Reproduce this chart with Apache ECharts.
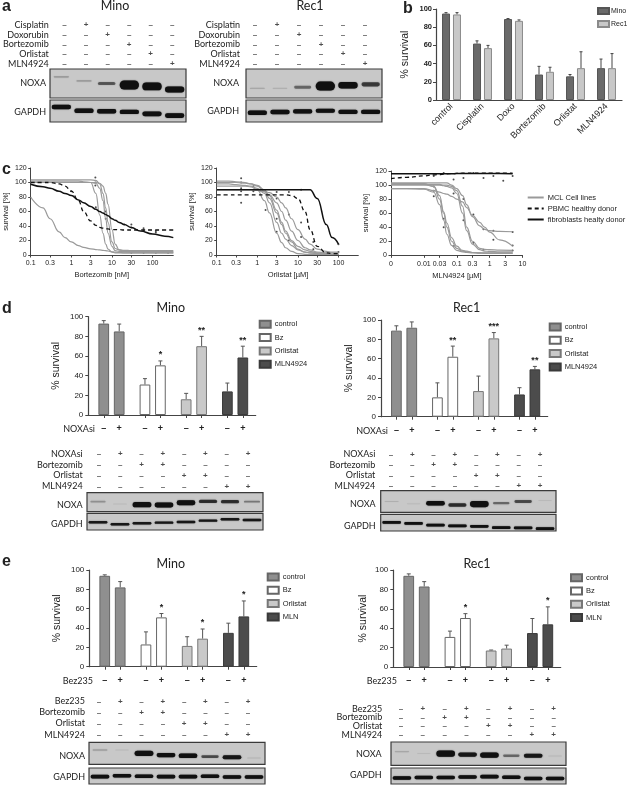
<!DOCTYPE html>
<html><head><meta charset="utf-8"><style>html,body{margin:0;background:#fff}#c{width:627px;height:785px}</style>
<script src="https://cdn.jsdelivr.net/npm/echarts@6/dist/echarts.min.js"></script></head>
<body><div id="c"></div>
<script>
// ---------- data: panel a ----------
const aRows=['Cisplatin','Doxorubin','Bortezomib','Orlistat','MLN4924'];
const aTreat=[[0,1,0,0,0,0],[0,0,1,0,0,0],[0,0,0,1,0,0],[0,0,0,0,1,0],[0,0,0,0,0,1]];
const aMinoNoxaPos=[.27,.41,.5,.55,.6,.71],aMinoNoxaInt=[.2,.2,.45,1,.9,.75];
const aMinoGapdhPos=[.32,.49,.51,.54,.63,.71],aMinoGapdhInt=[.85,.85,.85,.85,.9,.9];
const aRecNoxaPos=[.67,.67,.63,.59,.56,.53],aRecNoxaInt=[.15,.1,.4,1,.8,.55];
const aRecGapdhPos=[.58,.55,.52,.49,.54,.54],aRecGapdhInt=[.85,.85,.8,.8,.8,.8];
// ---------- data: panel b ----------
const bCats=['control','Cisplatin','Doxo','Bortezomib','Orlistat','MLN4924'];
const bMino=[95,62,89,28,26,35],bMinoTop=[96,65,89.5,37,28,45];
const bRec=[94,57,87,31,35,35],bRecTop=[96,60,88,36,53,51];
// ---------- data: panel c ----------
const bortDose=[.1,.2,.3,.5,.7,1,1.5,2,3,4,5,6,7,8,10,12,15,20,30,50,100,200,323];
const bortMCL=[
 [103.5,103.5,103.5,103.5,103.5,103.5,103.5,103.5,103.5,103,98,85,65,45,18,9,7,6.5,6,6,6,6,6],
 [100,100,100,100,100,100,100,100,100,99,92,75,50,30,12,6,5,5,5,5,5,5,5],
 [102,102,102,102,102,102,102,101,100,85,55,30,15,8,4,3,3,3,3,3,3,3,3],
 [100,100,100,100,100,100,100,100,100,100,99,95,85,70,35,15,7,5,4,4,4,4,4],
 [80,65,50,32,24,18,13,10.5,8.5,7.5,7,6.5,6,5.5,4.5,4,3.5,3,3,3,3,3,3]];
const bortPBMC=[100,100,100,98,95,88,75,60,47,41,38,37,36,36,35,35,35,34.5,34.5,34.5,34.5,34.5,34.5];
const bortFibro=[97.5,94,92,88,85,82,76,72,67,63,60,58,56,54,50,48,45,42,38,33,29,26,24];
const bortDotX=[1,3.9,3.9,3.9,4,7,7,20,30,30,60,60,120,120,30,60,120,240,30,60,120,240];
const bortDotY=[88,107,100,96,66,50,60,42,42,38,37,34,33,31,5,5,5,5,3,3,3,3];
const orlDose=[.1,.2,.3,.5,.7,1,1.5,2,3,4,5,7,10,15,20,30,50,70,100];
const orlMCL=[
 [102,102,101,100,98,95,88,78,58,42,30,18,8,4,3,2,1,1,1],
 [100,100,100,99,98,96,90,82,62,45,33,20,12,7,5,3,2,1,1],
 [98,98,97,96,95,92,85,72,45,30,22,13,7,4,3,2,1,1,1],
 [95,95,95,95,94,90,75,58,30,17,10,5,2,1,1,1,1,1,1],
 [90,90,90,90,90,89,88,86,80,72,65,50,35,22,15,8,5,4,4],
 [90,90,90,90,90,89,87,83,72,60,48,33,20,10,7,4,3,3,3]];
const orlPBMC=[83,83,83,83,83,83,83,83,83,83,83,82,78,60,35,12,3,2,2];
const orlFibro=[90,90,90,90,90,90,90,90,90,90,90,90,90,90,90,78,42,24,15];
const orlDotX=[.4,.4,.4,.4,.4,.8,.8,.8,1.6,3,3,3,3,6,6,6,12,12,12,24,24,100,100];
const orlDotY=[106,100,92,88,72,95,90,88,62,87,78,32,50,87,56,20,90,45,25,18,8,15,4];
const mlnDose=[.001,.003,.01,.02,.03,.04,.05,.07,.1,.15,.2,.3,.5,.7,1,2,5];
const mlnMCL=[
 [103,103,103,103,103,103,103,100,95,85,72,55,42,37,35,34,33.5],
 [95,95,95,92,90,88,87,84,80,76,68,57,47,40,33,22,13],
 [101,101,101,101,101,100,100,98,92,70,40,20,10,8.5,8,7.5,7],
 [100,100,100,100,100,99,98,96,88,60,35,16,8,6,5.5,5,5],
 [101,101,101,98,80,60,40,20,10,6,5,4,3.5,3,3,3,3],
 [95,95,94,90,72,50,30,14,7,5,4,3.5,3,3,3,3,3],
 [102,102,102,98,85,62,46,25,13,7,6,4,3.5,3,3,3,3]];
const mlnPBMC=[109,111,113,114.5,115,115.5,116,116.3,116.5,116.8,117,117,117,117,117,117,117];
const mlnFibro=[116,116,116,116,116,116,116,116,116.3,116.3,116.3,116.5,116.5,116.5,116.5,116.5,116];
const mlnDotX=[.02,.02,.02,.02,.04,.04,.04,.08,.08,.08,.16,.16,.16,.32,.32,.32,.65,.65,.65,1.3,1.3,1.3,2.6,5,5,5,5];
const mlnDotY=[113,92,84,98,117,52,40,108,13,88,110,50,80,117,58,18,110,37,8,113,35,22,106,33,14,7,113];
// ---------- data: panel d ----------
const groupsD=['control','Bz','Orlistat','MLN4924'];
const groupsE=['control','Bz','Orlistat','MLN'];
const dMinoMean=[93,85,31,50.5,16,70,24,58.5],dMinoTop=[96,92.5,37,55,22,80,32.5,70],dMinoStars=['','','','*','','**','','**'];
const dRecMean=[89,92,20,62,26.5,81,23,49],dRecTop=[94,98,35,73,42,87,30,52],dRecStars=['','','','**','','***','','**'];
const siRows=['NOXAsi','Bortezomib','Orlistat','MLN4924'];
const bezRows=['Bez235','Bortezomib','Orlistat','MLN4924'];
const comboTreat=[[0,1,0,1,0,1,0,1],[0,0,1,1,0,0,0,0],[0,0,0,0,1,1,0,0],[0,0,0,0,0,0,1,1]];
const pmLabels=['–','+','–','+','–','+','–','+'];
const dMinoNoxaPos=[.47,.6,.63,.65,.53,.46,.47,.47],dMinoNoxaInt=[.25,.03,.9,.85,.85,.6,.6,.35];
const dMinoGapdhPos=[.54,.66,.6,.56,.52,.44,.36,.4],dMinoGapdhInt=[.7,.7,.7,.7,.7,.7,.7,.7];
const dRecNoxaPos=[.5,.6,.58,.66,.62,.58,.5,.45],dRecNoxaInt=[.1,.02,.75,.6,.95,.4,.5,.03];
const dRecGapdhPos=[.49,.55,.65,.7,.72,.8,.82,.86],dRecGapdhInt=[.8,.8,.8,.8,.8,.8,.8,.8];
// ---------- data: panel e ----------
const eMinoMean=[94,82,23,51,21.5,29,35,52],eMinoTop=[95,88,36,55,31,39,45,68],eMinoStars=['','','','*','','*','','*'];
const eRecMean=[94,83,31,50.5,17,19,35,44],eRecTop=[96,88,37,55,17.5,22.5,50,62],eRecStars=['','','','*','','','','*'];
const eMinoNoxaPos=[.35,.35,.5,.58,.61,.65,.68,.71],eMinoNoxaInt=[.2,.02,.9,.75,.8,.5,.7,.08];
const eMinoGapdhPos=[.54,.48,.52,.54,.54,.52,.56,.56],eMinoGapdhInt=[.9,.9,.9,.9,.9,.9,.9,.9];
const eRecNoxaPos=[.41,.49,.5,.54,.56,.59,.59,.6],eRecNoxaInt=[.15,.02,.95,.7,.85,.4,.7,.05];
const eRecGapdhPos=[.62,.6,.6,.56,.54,.58,.65,.65],eRecGapdhInt=[.9,.9,.9,.9,.9,.9,.9,.9];

// ---------- builders ----------
const ARIAL='"Liberation Sans",Arial,sans-serif',CAL='Lato,sans-serif',INK='#222',AX='#444';
const grid=[],xAxis=[],yAxis=[],series=[],legend=[],graphic=[];
function txt(x,y,text,size,opt={}){graphic.push({type:'text',x,y,silent:true,style:{text,font:`${opt.weight||'normal'} ${size}px ${opt.fam||CAL}`,fill:INK,textAlign:opt.align||'center',textVerticalAlign:'middle'}});}
function addGrid(g,x,y){const idx=grid.length;grid.push(g);xAxis.push({...x,gridIndex:idx});yAxis.push({...y,gridIndex:idx});return idx;}
function table(rows,treat,x0,x1,y0,y1,labelRight){
  const n=treat[0].length,m=rows.length,w=(x1-x0)/(n-1),h=(y1-y0)/(m-1),left=x0-w/2,top=y0-h/2;
  const i=addGrid({left,top,width:w*n,height:h*m},
    {type:'category',show:false,data:treat[0].map((_,k)=>k)},
    {type:'category',inverse:true,data:rows,axisLine:{show:false},axisTick:{show:false},axisLabel:{margin:left-labelRight,align:'right',fontFamily:CAL,fontSize:9,color:INK,interval:0}});
  const data=[];treat.forEach((r,a)=>r.forEach((v,b)=>data.push([b,a,v])));
  series.push({type:'scatter',xAxisIndex:i,yAxisIndex:i,symbolSize:0,silent:true,data,
    label:{show:true,position:'inside',fontFamily:ARIAL,fontSize:8,fontWeight:'bold',color:INK,formatter:p=>p.value[2]?'+':'–'}});
}
function blot(x0,x1,y0,y1,pos,inten,thick){
  const i=addGrid({left:x0,top:y0,width:x1-x0,height:y1-y0,show:true,backgroundColor:'#c8c8c8',borderColor:'#3a3a3a',borderWidth:1.2},
    {type:'category',show:false,data:pos.map((_,k)=>k)},{type:'value',show:false,min:0,max:1,inverse:true});
  series.push({type:'custom',xAxisIndex:i,yAxisIndex:i,silent:true,clip:true,data:pos.map((p,k)=>[k,p,inten[k]]),
    encode:{x:0,y:1},renderItem(params,api){
      const c=api.coord([api.value(0),api.value(1)]),lw=api.size([1,0])[0],v=api.value(2);
      const bw=lw*(.6+.25*Math.min(1,v*1.5)),bh=1+thick*Math.pow(v,1.6);
      return{type:'rect',shape:{x:c[0]-bw/2,y:c[1]-bh/2,width:bw,height:bh,r:bh/2},
        style:{fill:'#101010',opacity:Math.min(1,.04+v*v*1.3+v*.3),shadowBlur:1.2,shadowColor:'#333'}};
    }});
}
function lanePanel(rows,treat,t,b){
  table(rows,treat,t.x0,t.x1,t.y0,t.y1,t.lab);
  blot(b.x0,b.x1,b.ny0,b.ny1,b.np,b.ni,b.nt||8);
  blot(b.x0,b.x1,b.gy0,b.gy1,b.gp,b.gi,b.gt||3.5);
  txt(b.lab,b.nl,'NOXA',9,{align:'right'});txt(b.lab,b.gl,'GAPDH',9,{align:'right'});
}
const GROUP_FILL=['#8f8f8f','#ffffff','#c9c9c9','#4c4c4c'];
const GROUP_EDGE=['#666','#666','#777','#3a3a3a'];
const LEAD=6,PAIR=6,STEP=16,SLOTS=66;
function barPanel(o){
  const slotOf=k=>LEAD+STEP*Math.floor(k/2)+PAIR*(k%2);
  const cats=Array(SLOTS).fill('');pmLabels.forEach((l,k)=>cats[slotOf(k)]=l);
  const i=addGrid({left:o.left,top:o.y100,width:o.right-o.left,height:o.y0-o.y100},
    {type:'category',data:cats,boundaryGap:false,axisLine:{lineStyle:{color:AX,width:1.2}},
     axisTick:{length:3,lineStyle:{color:AX},interval:(idx,v)=>v!==''},
     axisLabel:{interval:0,margin:9,fontFamily:ARIAL,fontWeight:'bold',fontSize:9,color:INK,hideOverlap:false}},
    {type:'value',min:0,max:100,interval:20,name:'% survival',nameLocation:'middle',nameGap:o.left-o.nameX,nameTextStyle:{fontFamily:ARIAL,fontSize:10.5,color:INK},
     axisLine:{show:true,lineStyle:{color:AX,width:1.2}},axisTick:{show:true,length:3,lineStyle:{color:AX}},splitLine:{show:false},
     axisLabel:{margin:5,fontFamily:ARIAL,fontSize:8,color:INK}});
  o.groups.forEach((name,g)=>{
    const data=Array(SLOTS).fill(null);
    [g*2,g*2+1].forEach(k=>data[slotOf(k)]=o.mean[k]);
    series.push({type:'bar',name,xAxisIndex:i,yAxisIndex:i,stack:'s'+i,barWidth:10.7,data,silent:true,
      itemStyle:{color:GROUP_FILL[g],borderColor:GROUP_EDGE[g],borderWidth:1}});
  });
  series.push({type:'custom',xAxisIndex:i,yAxisIndex:i,silent:true,z:1,clip:false,
    data:o.mean.map((m,k)=>[slotOf(k),m,o.top[k]]),encode:{x:0,y:[1,2]},
    renderItem(p,api){
      const a=api.coord([api.value(0),api.value(1)]),b=api.coord([api.value(0),api.value(2)]);
      const ls={stroke:'#555',lineWidth:1};
      const ch=[{type:'line',shape:{x1:a[0],y1:a[1],x2:b[0],y2:b[1]},style:ls},
                {type:'line',shape:{x1:b[0]-2,y1:b[1],x2:b[0]+2,y2:b[1]},style:ls}];
      const s=o.stars[p.dataIndex];
      if(s)ch.push({type:'text',style:{text:s,x:b[0],y:b[1]-6,font:`bold 9px ${ARIAL}`,fill:INK,align:'center',verticalAlign:'middle'}});
      return{type:'group',children:ch};
    }});
  legend.push({data:o.groups,orient:'vertical',left:o.lx,top:o.ly,padding:0,itemWidth:11,itemHeight:7,itemGap:4.3,selectedMode:false,icon:'rect',
    textStyle:{fontFamily:ARIAL,fontSize:7.5,color:INK,padding:[0,0,0,-1]}});
  txt(o.left+o.sLabX,o.y0+14,o.sLab,9,{align:'right'});
}
function curve(i,name,dose,vals,color,width,dash){
  series.push({type:'line',name,xAxisIndex:i,yAxisIndex:i,data:dose.map((d,k)=>[d,vals[k]]),showSymbol:false,symbol:'none',smooth:.45,smoothMonotone:'x',silent:true,
    lineStyle:{color,width,type:dash?[4,3]:'solid'},itemStyle:{color}});
}
function dosePanel(o){
  const i=addGrid({left:o.left,right:627-o.right,top:o.top,height:o.y0-o.top},
    {type:'log',logBase:10,min:o.min,max:o.max,axisLine:{onZero:false,lineStyle:{color:AX}},splitLine:{show:false},minorTick:{show:false},
     axisTick:{length:2.5,lineStyle:{color:AX},customValues:o.ticks},
     axisLabel:{customValues:o.ticks,margin:5,fontFamily:ARIAL,fontSize:7,color:INK,formatter:v=>o.tickFmt?o.tickFmt(v):String(v),showMinLabel:true,showMaxLabel:true,hideOverlap:false}},
    {type:'value',min:0,max:120,interval:20,name:'survival [%]',nameLocation:'middle',nameGap:o.left-o.nameX,nameTextStyle:{fontFamily:ARIAL,fontSize:7.5,color:INK},
     axisLine:{show:true,onZero:false,lineStyle:{color:AX}},axisTick:{show:true,length:2.5,lineStyle:{color:AX}},splitLine:{show:false},
     axisLabel:{margin:4,fontFamily:ARIAL,fontSize:7,color:INK}});
  o.mcl.forEach(v=>curve(i,'MCL Cell lines',o.dose,v,'#9a9a9a',1.2));
  curve(i,'PBMC healthy donor',o.dose,o.pbmc,'#111',1.3,true);
  curve(i,'fibroblasts healty donor',o.dose,o.fibro,'#111',1.5);
  series.push({type:'scatter',xAxisIndex:i,yAxisIndex:i,symbolSize:2,silent:true,itemStyle:{color:'#222'},data:o.dotX.map((x,k)=>[x,o.dotY[k]])});
  txt(o.nameCx,o.nameCy,o.xName,7.5,{fam:ARIAL});
}

// ---------- layout ----------
[['a',2,7],['b',403,9],['c',2,170],['d',2,309],['e',2,562]].forEach(l=>txt(l[1],l[2],l[0],16,{fam:ARIAL,weight:'bold',align:'left'}));
[['Mino',115,6],['Rec1',310,6],['Mino',170.7,308],['Rec1',466.7,308],['Mino',170.7,564],['Rec1',477,564]].forEach(t=>txt(t[1],t[2],t[0],12.5));

// a
lanePanel(aRows,aTreat,{x0:62,x1:172,y0:25,y1:64,lab:46},{x0:50,x1:186,ny0:69,ny1:98,gy0:100,gy1:122,np:aMinoNoxaPos,ni:aMinoNoxaInt,gp:aMinoGapdhPos,gi:aMinoGapdhInt,lab:46,nl:83,gl:112,gt:4.5});
lanePanel(aRows,aTreat,{x0:255,x1:365,y0:25,y1:64,lab:240},{x0:246,x1:382,ny0:69,ny1:98,gy0:100,gy1:122,np:aRecNoxaPos,ni:aRecNoxaInt,gp:aRecGapdhPos,gi:aRecGapdhInt,lab:239,nl:83,gl:111,gt:4.5});

// b
(function(){
  const i=addGrid({left:436,top:9,width:186,height:91},
    {type:'category',data:bCats,axisLine:{lineStyle:{color:AX,width:1.2}},axisTick:{alignWithLabel:true,length:2,lineStyle:{color:AX}},
     axisLabel:{interval:0,rotate:45,margin:5,fontFamily:ARIAL,fontSize:9,color:INK}},
    {type:'value',min:0,max:100,interval:20,name:'% survival',nameLocation:'middle',nameGap:25,nameTextStyle:{fontFamily:ARIAL,fontSize:10.5,color:INK},
     axisLine:{show:true,lineStyle:{color:AX,width:1.2}},axisTick:{show:true,length:3,lineStyle:{color:AX}},splitLine:{show:false},
     axisLabel:{margin:4,fontFamily:ARIAL,fontSize:7.5,fontWeight:'bold',color:INK}});
  [['Mino',bMino,bMinoTop,'#6a6a6a','#555'],['Rec1',bRec,bRecTop,'#c8c8c8','#8a8a8a']].forEach((s,si)=>{
    series.push({type:'bar',name:s[0],xAxisIndex:i,yAxisIndex:i,barWidth:8,barGap:'37%',data:s[1],silent:true,itemStyle:{color:s[3],borderColor:s[4],borderWidth:1}});
  });
  [[bMino,bMinoTop,-5.5],[bRec,bRecTop,5.5]].forEach(s=>series.push({type:'custom',xAxisIndex:i,yAxisIndex:i,silent:true,
    data:s[0].map((m,k)=>[k,m,s[1][k]]),encode:{x:0,y:[1,2]},renderItem(p,api){
      const a=api.coord([api.value(0),api.value(1)]),b=api.coord([api.value(0),api.value(2)]),x=a[0]+s[2],ls={stroke:'#444',lineWidth:1};
      return{type:'group',children:[{type:'line',shape:{x1:x,y1:a[1],x2:x,y2:b[1]},style:ls},{type:'line',shape:{x1:x-1.5,y1:b[1],x2:x+1.5,y2:b[1]},style:ls}]};
    }}));
  legend.push({data:['Mino','Rec1'],orient:'vertical',left:597,top:7,padding:0,itemWidth:11,itemHeight:6,itemGap:5,selectedMode:false,icon:'rect',textStyle:{fontFamily:ARIAL,fontSize:7,color:INK,padding:[0,0,0,-3]}});
})();

// c
dosePanel({left:30.7,right:173.3,top:168,y0:255,min:.1,max:323,ticks:[.1,.3,1,3,10,30,100],nameX:10,nameCx:101.7,nameCy:275,xName:'Bortezomib [nM]',dose:bortDose,mcl:bortMCL,pbmc:bortPBMC,fibro:bortFibro,dotX:bortDotX,dotY:bortDotY});
dosePanel({left:216.7,right:358.3,top:168,y0:255,min:.1,max:308,ticks:[.1,.3,1,3,10,30,100],nameX:195.7,nameCx:288,nameCy:275,xName:'Orlistat [µM]',dose:orlDose,mcl:orlMCL,pbmc:orlPBMC,fibro:orlFibro,dotX:orlDotX,dotY:orlDotY});
dosePanel({left:391,right:522.5,top:171,y0:255.3,min:.001,max:10,ticks:[.001,.01,.03,.1,.3,1,3,10],tickFmt:v=>v<=.001?'0':String(v),nameX:370,nameCx:457,nameCy:276,xName:'MLN4924 [µM]',dose:mlnDose,mcl:mlnMCL,pbmc:mlnPBMC,fibro:mlnFibro,dotX:mlnDotX,dotY:mlnDotY});
legend.push({data:['MCL Cell lines','PBMC healthy donor','fibroblasts healty donor'],orient:'vertical',left:526.7,top:193.5,padding:0,itemWidth:16,itemHeight:8,itemGap:3,selectedMode:false,itemStyle:{opacity:0},textStyle:{fontFamily:ARIAL,fontSize:7.5,color:INK,padding:[0,0,0,-1]}});

// d
barPanel({left:88.3,right:255.7,y0:415,y100:316.7,nameX:61.3,groups:groupsD,mean:dMinoMean,top:dMinoTop,stars:dMinoStars,lx:258.7,ly:319.8,sLab:'NOXAsi',sLabX:6.7});
barPanel({left:381,right:547.7,y0:416.7,y100:320,nameX:355,groups:groupsD,mean:dRecMean,top:dRecTop,stars:dRecStars,lx:548.7,ly:322.5,sLab:'NOXAsi',sLabX:7});
lanePanel(siRows,comboTreat,{x0:99,x1:248,y0:454,y1:486.3,lab:82.7},{x0:87,x1:263,ny0:492.7,ny1:511.7,gy0:513.3,gy1:530,np:dMinoNoxaPos,ni:dMinoNoxaInt,gp:dMinoGapdhPos,gi:dMinoGapdhInt,lab:82.7,nl:505,gl:524,nt:5,gt:2.5});
lanePanel(siRows,comboTreat,{x0:391,x1:540,y0:454.3,y1:486,lab:375.3},{x0:380.7,x1:556,ny0:490.7,ny1:512.3,gy0:514.3,gy1:531,np:dRecNoxaPos,ni:dRecNoxaInt,gp:dRecGapdhPos,gi:dRecGapdhInt,lab:375.7,nl:504,gl:526,nt:5.5,gt:2.5});

// e
barPanel({left:89.3,right:256.7,y0:666.7,y100:570,nameX:62.7,groups:groupsE,mean:eMinoMean,top:eMinoTop,stars:eMinoStars,lx:266.7,ly:572.5,sLab:'Bez235',sLabX:3.7});
barPanel({left:393.3,right:560.7,y0:667,y100:570,nameX:369,groups:groupsE,mean:eRecMean,top:eRecTop,stars:eRecStars,lx:570,ly:573.2,sLab:'Bez235',sLabX:3.7});
lanePanel(bezRows,comboTreat,{x0:99,x1:248,y0:701.3,y1:734.7,lab:85},{x0:89,x1:265,ny0:742.3,ny1:764.3,gy0:768,gy1:784,np:eMinoNoxaPos,ni:eMinoNoxaInt,gp:eMinoGapdhPos,gi:eMinoGapdhInt,lab:85,nl:755.7,gl:776.7,nt:5,gt:3});
lanePanel(bezRows,comboTreat,{x0:401,x1:553.7,y0:709,y1:734.7,lab:382.3},{x0:391,x1:566,ny0:742,ny1:765.3,gy0:768,gy1:784,np:eRecNoxaPos,ni:eRecNoxaInt,gp:eRecGapdhPos,gi:eRecGapdhInt,lab:381.7,nl:754,gl:775,nt:5.5,gt:3});

const chart=echarts.init(document.getElementById('c'),null,{renderer:'canvas'});
chart.setOption({animation:false,backgroundColor:'#fff',grid,xAxis,yAxis,series,legend,graphic:{elements:graphic}});
</script></body></html>
